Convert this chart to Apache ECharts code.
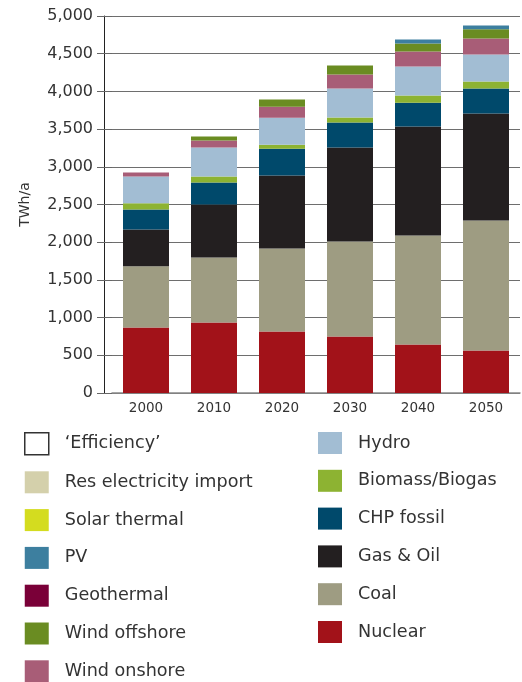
<!DOCTYPE html>
<html><head><meta charset="utf-8">
<script src="https://cdn.jsdelivr.net/npm/echarts@6/dist/echarts.min.js"></script>
<style>html,body{margin:0;padding:0;background:#fff}#c{width:522px;height:682px}</style>
</head><body><div id="c"></div>
<script>
const years = ['2000','2010','2020','2030','2040','2050'];
const yTicks = [0,500,1000,1500,2000,2500,3000,3500,4000,4500,5000];
const nuclear      = [870, 935, 815, 750, 643, 564];
const coal         = [810, 862, 1100, 1260, 1445, 1724];
const gasOil       = [490, 703, 968, 1246, 1445, 1419];
const chpFossil    = [265, 292, 358, 332, 318, 332];
const biomass      = [80, 80, 53, 66, 93, 93];
const hydro        = [358, 385, 358, 385, 385, 358];
const windOnshore  = [53, 93, 146, 186, 199, 212];
const windOffshore = [0, 53, 93, 119, 106, 123];
const geothermal   = [0, 0, 0, 0, 0, 0];
const pv           = [0, 0, 0, 0, 53, 49];
const solarThermal = [0, 0, 0, 0, 0, 0];
const resImport    = [0, 0, 0, 0, 0, 0];
const efficiency   = [0, 0, 0, 0, 0, 0];

const EFF = '\u2018Efficiency\u2019';
const seriesDefs = [
  ['Nuclear', nuclear, '#a21219'],
  ['Coal', coal, '#9e9c82'],
  ['Gas & Oil', gasOil, '#231f20'],
  ['CHP fossil', chpFossil, '#00496b'],
  ['Biomass/Biogas', biomass, '#8db332'],
  ['Hydro', hydro, '#a2bdd3'],
  ['Wind onshore', windOnshore, '#a85d77'],
  ['Wind offshore', windOffshore, '#6a8c22'],
  ['Geothermal', geothermal, '#7a0038'],
  ['PV', pv, '#3d7f9f'],
  ['Solar thermal', solarThermal, '#d4dc1f'],
  ['Res electricity import', resImport, '#d4d0ab'],
  [EFF, efficiency, '#ffffff']
];
const legendLeft = [EFF,'Res electricity import','Solar thermal','PV','Geothermal','Wind offshore','Wind onshore'];
const legendRight = ['Hydro','Biomass/Biogas','CHP fossil','Gas & Oil','Coal','Nuclear'];

const chart = echarts.init(document.getElementById('c'), null, {renderer:'canvas'});
const legendText = {fontFamily:'"DejaVu Sans", sans-serif', fontSize:17.6, color:'#333', padding:[0,0,0,11]};
const legendCommon = {orient:'vertical', icon:'rect', itemWidth:24, itemHeight:22, itemGap:15.8, top:432, padding:0, textStyle:legendText, selectedMode:false};
const mkLegendData = arr => arr.map(n => n === EFF
  ? {name:n, itemStyle:{color:'#ffffff', borderColor:'#333', borderWidth:1.5}}
  : {name:n});
chart.setOption({
  animation:false,
  grid:{left:112, right:2, top:16, bottom:289},
  legend:[
    Object.assign({left:24, data:mkLegendData(legendLeft)}, legendCommon),
    Object.assign({left:318, data:mkLegendData(legendRight)}, legendCommon)
  ],
  xAxis:{type:'category', data:years,
    axisLine:{lineStyle:{color:'#888', width:1.5}}, axisTick:{show:false},
    axisLabel:{fontFamily:'"DejaVu Sans", sans-serif', fontSize:13.5, color:'#333', margin:8}},
  yAxis:[
    {type:'value', min:0, max:5000, interval:500,
     name:'TWh/a', nameLocation:'middle', nameGap:80, nameRotate:90,
     nameTextStyle:{fontFamily:'"DejaVu Sans", sans-serif', fontSize:14, color:'#333'},
     axisLine:{show:false}, axisTick:{show:true, length:15, lineStyle:{color:'#666'}},
     axisLabel:{fontFamily:'"DejaVu Sans", sans-serif', fontSize:16, color:'#333', margin:19,
       formatter:v => yTicks.includes(v) ? v.toLocaleString('en-US') : ''},
     splitLine:{lineStyle:{color:'#6e6e6e', width:1}}},
    {type:'value', min:0, max:5000, interval:500, position:'left', offset:8,
     axisLine:{show:true, lineStyle:{color:'#222', width:1}}, axisTick:{show:false},
     axisLabel:{show:false}, splitLine:{show:false}}
  ],
  series: seriesDefs.map(([name, data, color]) => ({
    name, type:'bar', stack:'total', data, barWidth:46, yAxisIndex:0,
    itemStyle:{color, borderWidth:0}
  }))
});
</script></body></html>
